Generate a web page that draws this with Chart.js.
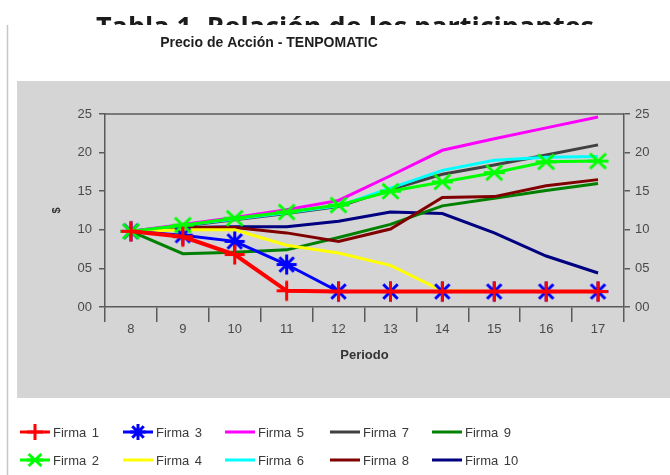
<!DOCTYPE html>
<html>
<head>
<meta charset="utf-8">
<script src="https://cdn.jsdelivr.net/npm/chart.js@4.4.0/dist/chart.umd.min.js"></script>
<style>
  html, body { margin: 0; padding: 0; background: #ffffff; width: 670px; height: 475px; overflow: hidden; }
  #wrap { position: relative; width: 670px; height: 475px; }
  #heading { position: absolute; left: 0; top: 0; width: 670px; height: 25px; overflow: hidden; background: #ffffff; z-index: 2; }
  #heading span { position: absolute; left: 0; width: 690px; top: 7px; text-align: center; line-height: 27px;
    font: bold 27px "Open Sans", sans-serif; color: #1b1b1b; white-space: nowrap; }
  #chart { position: absolute; left: 0; top: 0; }
  #legend { position: absolute; left: 0; top: 0; width: 670px; height: 475px; pointer-events: none; }
  .item { position: absolute; height: 22px; display: flex; align-items: center; }
  .item canvas { display: block; width: 30px; height: 22px; }
  .item span { margin-left: 3px; font: 13px "Liberation Sans", Arial, sans-serif; color: #3a3a3a; word-spacing: 2px; white-space: nowrap; }
</style>
</head>
<body>
<div id="wrap">
  <div id="heading"><span>Tabla 1. Relación de los participantes</span></div>
  <canvas id="chart" width="670" height="475"></canvas>
  <div id="legend"></div>
</div>
<script>
// Periods on the horizontal axis
const periods = ['8', '9', '10', '11', '12', '13', '14', '15', '16', '17'];
// Labels for the price axis (both sides)
const priceTickLabels = ['00', '05', '10', '15', '20', '25'];

// Share price of each firm per period
const firma1  = [9.8, 9.1, 6.8, 2.1, 2.0, 2.0, 2.0, 2.0, 2.0, 2.0];
const firma2  = [9.8, 10.6, 11.5, 12.3, 13.2, 15.0, 16.2, 17.4, 18.8, 18.9];
const firma3  = [9.8, 9.3, 8.5, 5.5, 2.0, 2.0, 2.0, 2.0, 2.0, 2.0];
const firma4  = [9.8, 10.0, 10.0, 8.0, 7.0, 5.4, 2.1, 2.0, 2.0, 2.0];
const firma5  = [9.8, 10.7, 11.6, 12.6, 13.8, 17.0, 20.3, 21.8, 23.2, 24.6];
const firma6  = [9.8, 10.6, 11.4, 12.2, 13.1, 15.4, 17.7, 19.0, 19.4, 19.5];
const firma7  = [9.8, 10.5, 11.3, 12.1, 13.0, 15.2, 17.2, 18.4, 19.7, 21.0];
const firma8  = [9.8, 10.3, 10.3, 9.6, 8.5, 10.1, 14.2, 14.3, 15.7, 16.5];
const firma9  = [9.8, 6.9, 7.1, 7.4, 9.0, 10.7, 13.1, 14.1, 15.1, 16.0];
const firma10 = [9.8, 10.3, 10.4, 10.4, 11.1, 12.3, 12.1, 9.6, 6.6, 4.4];

const seriesNames = ['Firma 1', 'Firma 2', 'Firma 3', 'Firma 4', 'Firma 5',
                     'Firma 6', 'Firma 7', 'Firma 8', 'Firma 9', 'Firma 10'];
const seriesValues = [firma1, firma2, firma3, firma4, firma5, firma6, firma7, firma8, firma9, firma10];
const seriesColors = ['#ff0000', '#00ff00', '#0000ff', '#ffff00', '#ff00ff',
                      '#00ffff', '#404040', '#800000', '#008000', '#000080'];
const seriesMarkers = ['cross', 'asterisk', 'star', null, null, null, null, null, null, null];

const FONT = '"Liberation Sans", Arial, sans-serif';

// Marker glyph drawing, shared by the plot and the legend
function drawMarker(ctx, kind, cx, cy, r, color, w) {
  ctx.save();
  ctx.strokeStyle = color;
  ctx.lineWidth = w;
  ctx.lineCap = 'butt';
  ctx.beginPath();
  if (kind === 'cross') {
    ctx.moveTo(cx - r, cy); ctx.lineTo(cx + r, cy);
    ctx.moveTo(cx, cy - r); ctx.lineTo(cx, cy + r);
  } else if (kind === 'asterisk') {
    ctx.moveTo(cx - r * 1.05, cy); ctx.lineTo(cx + r * 1.05, cy);
    ctx.moveTo(cx - r * 0.8, cy - r * 0.75); ctx.lineTo(cx + r * 0.8, cy + r * 0.75);
    ctx.moveTo(cx - r * 0.8, cy + r * 0.75); ctx.lineTo(cx + r * 0.8, cy - r * 0.75);
  } else if (kind === 'star') {
    ctx.moveTo(cx - r, cy); ctx.lineTo(cx + r, cy);
    ctx.moveTo(cx, cy - r); ctx.lineTo(cx, cy + r);
    const d = r * 0.72;
    ctx.moveTo(cx - d, cy - d); ctx.lineTo(cx + d, cy + d);
    ctx.moveTo(cx - d, cy + d); ctx.lineTo(cx + d, cy - d);
  }
  ctx.stroke();
  ctx.restore();
}

function markerImage(kind, color, r, w) {
  const c = document.createElement('canvas');
  const s = Math.ceil(r * 2 + w + 4);
  c.width = s; c.height = s;
  drawMarker(c.getContext('2d'), kind, s / 2, s / 2, r, color, w);
  return c;
}

const datasets = seriesNames.map((name, i) => {
  const kind = seriesMarkers[i];
  return {
    label: name,
    data: seriesValues[i],
    borderColor: seriesColors[i],
    backgroundColor: seriesColors[i],
    borderWidth: i === 0 ? 4 : 3,
    tension: 0,
    fill: false,
    pointStyle: kind ? markerImage(kind, seriesColors[i], 10, 3) : false,
    pointRadius: kind ? 10 : 0,
    pointHoverRadius: kind ? 10 : 0,
    yAxisID: 'y'
  };
});

// Page frame: white sheet, grey band behind the plot, rule on the left, chart title
const framePlugin = {
  id: 'frame',
  beforeDraw(chart) {
    const ctx = chart.ctx;
    ctx.save();
    ctx.fillStyle = '#ffffff';
    ctx.fillRect(0, 0, chart.width, chart.height);
    ctx.fillStyle = '#d5d5d5';
    ctx.fillRect(17, 81, chart.width - 17, 317);
    ctx.strokeStyle = '#c6c6c6';
    ctx.lineWidth = 1.5;
    ctx.beginPath();
    ctx.moveTo(7.5, 25); ctx.lineTo(7.5, chart.height);
    ctx.stroke();
    ctx.fillStyle = '#1e1e1e';
    ctx.font = 'bold 14px ' + FONT;
    ctx.textAlign = 'center';
    ctx.textBaseline = 'middle';
    ctx.fillText('Precio de Acción - TENPOMATIC', 269, 43);
    ctx.restore();
  },
  beforeDatasetsDraw(chart) {
    const {ctx, chartArea} = chart;
    ctx.save();
    ctx.strokeStyle = '#5a5a5a';
    ctx.lineWidth = 1.5;
    ctx.beginPath();
    ctx.moveTo(chartArea.left, chartArea.top);
    ctx.lineTo(chartArea.right, chartArea.top);
    ctx.stroke();
    ctx.restore();
  }
};

const axisColor = '#5a5a5a';
const yCommon = {
  min: 0, max: 25,
  ticks: {
    stepSize: 5,
    font: { family: FONT, size: 13 },
    color: '#4a4a4a',
    callback: (v, idx) => priceTickLabels[idx]
  },
  grid: { drawOnChartArea: false, drawTicks: true, tickLength: 6, color: axisColor, lineWidth: 1.5 },
  border: { display: true, color: axisColor, width: 1.5 }
};

new Chart(document.getElementById('chart'), {
  type: 'line',
  data: { labels: periods, datasets },
  options: {
    responsive: false,
    devicePixelRatio: 1,
    animation: false,
    layout: { padding: { top: 114, left: 0, right: 0, bottom: 108 } },
    plugins: {
      legend: { display: false },
      title: { display: false },
      tooltip: { enabled: false }
    },
    scales: {
      x: {
        type: 'category',
        offset: true,
        grid: { offset: true, drawOnChartArea: false, drawTicks: true, tickLength: 15, color: axisColor, lineWidth: 1.5 },
        border: { display: true, color: axisColor, width: 1.5 },
        ticks: { font: { family: FONT, size: 13 }, color: '#4a4a4a', padding: 0, maxRotation: 0, autoSkip: false },
        title: { display: true, text: 'Periodo', font: { family: FONT, size: 13, weight: 'bold' }, color: '#333333', padding: { top: 0, bottom: 4 } },
        afterFit(s) { s.height = 60; }
      },
      y: Object.assign({}, yCommon, {
        position: 'left',
        ticks: Object.assign({}, yCommon.ticks, { padding: 7 }),
        title: { display: true, text: '$', font: { family: FONT, size: 11, weight: 'bold' }, color: '#333333', padding: { top: 50, bottom: 0 } },
        afterFit(s) { s.width = 105; }
      }),
      y2: Object.assign({}, yCommon, {
        position: 'right',
        ticks: Object.assign({}, yCommon.ticks, { padding: 5 }),
        afterFit(s) { s.width = 46; }
      })
    }
  },
  plugins: [framePlugin]
});

// Legend: two rows, five columns, filled column by column
const legend = document.getElementById('legend');
const colX = [20, 123, 225, 330, 432];
const rowY = [421, 449];
seriesNames.forEach((name, i) => {
  const col = Math.floor(i / 2), row = i % 2;
  const item = document.createElement('div');
  item.className = 'item';
  item.style.left = colX[col] + 'px';
  item.style.top = rowY[row] + 'px';
  const c = document.createElement('canvas');
  c.width = 30; c.height = 22;
  const g = c.getContext('2d');
  g.strokeStyle = seriesColors[i];
  g.lineWidth = 3;
  g.beginPath(); g.moveTo(0, 11); g.lineTo(30, 11); g.stroke();
  if (seriesMarkers[i]) drawMarker(g, seriesMarkers[i], 15, 11, 8, seriesColors[i], 3);
  const t = document.createElement('span');
  t.textContent = name;
  item.appendChild(c);
  item.appendChild(t);
  legend.appendChild(item);
});
</script>
</body>
</html>
